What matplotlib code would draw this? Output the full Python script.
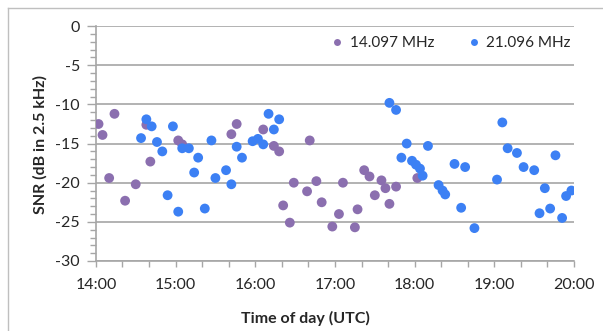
import matplotlib
matplotlib.use("Agg")
import matplotlib.pyplot as plt
from matplotlib.ticker import MultipleLocator, FuncFormatter
from matplotlib.lines import Line2D

plt.rcParams['font.family'] = ['Lato', 'DejaVu Sans']

# ---- data ----
series_labels = ["14.097 MHz", "21.096 MHz"]

times_14 = ["14:02", "14:05", "14:10", "14:14", "14:22", "14:30", "14:38", "14:41",
            "15:02", "15:05", "15:42", "15:46", "16:06", "16:14", "16:18", "16:21",
            "16:26", "16:29", "16:39", "16:41", "16:46", "16:50", "16:58", "17:03",
            "17:06", "17:15", "17:17", "17:22", "17:26", "17:30", "17:35", "17:38",
            "17:41", "17:46", "18:02"]
snr_14 = [-12.5, -13.9, -19.4, -11.2, -22.3, -20.2, -12.6, -17.3,
          -14.6, -15.1, -13.8, -12.5, -13.2, -15.3, -16.0, -22.9,
          -25.1, -20.0, -21.1, -14.6, -19.8, -22.5, -25.6, -24.0,
          -20.0, -25.7, -23.4, -18.4, -19.2, -21.6, -19.7, -20.7,
          -22.7, -20.5, -19.4]

times_21 = ["14:34", "14:38", "14:42", "14:46", "14:50", "14:54", "14:58", "15:02",
            "15:05", "15:10", "15:14", "15:17", "15:22", "15:27", "15:30", "15:38",
            "15:42", "15:46", "15:50", "15:58", "16:02", "16:06", "16:10", "16:14",
            "16:18", "17:41", "17:46", "17:50", "17:54", "17:58", "18:01", "18:04",
            "18:06", "18:10", "18:18", "18:21", "18:23", "18:30", "18:35", "18:38",
            "18:45", "19:02", "19:06", "19:10", "19:17", "19:22", "19:30", "19:34",
            "19:38", "19:42", "19:46", "19:51", "19:54", "19:58"]
snr_21 = [-14.3, -11.9, -12.8, -14.8, -16.0, -21.6, -12.8, -23.7,
          -15.6, -15.6, -18.7, -16.8, -23.3, -14.6, -19.4, -18.4,
          -20.2, -15.4, -16.8, -14.7, -14.4, -15.1, -11.2, -13.2,
          -11.9, -9.8, -10.7, -16.8, -15.0, -17.2, -17.7, -18.2,
          -19.1, -15.3, -20.3, -21.0, -21.5, -17.6, -23.2, -18.0,
          -25.8, -19.6, -12.3, -15.6, -16.2, -18.0, -18.4, -23.9,
          -20.7, -23.3, -16.5, -24.5, -21.7, -21.0]

colors = ["#8B6FAF", "#3C80F4"]


def to_hours(t):
    h, m = t.split(":")
    return int(h) + int(m) / 60.0


fig = plt.figure(figsize=(6.03, 3.31), dpi=100)
ax = fig.add_axes([0.159, 0.2115, 0.793, 0.7095])

for times, vals, c, lab in [(times_14, snr_14, colors[0], series_labels[0]),
                            (times_21, snr_21, colors[1], series_labels[1])]:
    ax.scatter([to_hours(t) for t in times], vals, s=50, color=c,
               edgecolors='none', zorder=3, label=lab)

ax.set_xlim(14, 20)
ax.set_ylim(-30, 0)
ax.xaxis.set_major_locator(MultipleLocator(1))
ax.xaxis.set_minor_locator(MultipleLocator(1 / 3))
ax.yaxis.set_major_locator(MultipleLocator(5))
ax.yaxis.set_minor_locator(MultipleLocator(1))
ax.xaxis.set_major_formatter(FuncFormatter(lambda v, p: "%d:00" % round(v)))
ax.yaxis.set_major_formatter(FuncFormatter(lambda v, p: "%d" % round(v)))

gc = "#A6A6A6"
tc = "#262626"
ax.grid(axis='y', which='major', color=gc, linewidth=1.2, zorder=0)
ax.set_axisbelow(True)
for s in ['top', 'right']:
    ax.spines[s].set_visible(False)
for s in ['left', 'bottom']:
    ax.spines[s].set_color(gc)
    ax.spines[s].set_linewidth(1.2)

ax.tick_params(axis='both', which='both', direction='out', color=gc, width=1.0)
ax.tick_params(axis='x', which='major', length=4, pad=8, labelsize=11.5, labelcolor=tc)
ax.tick_params(axis='x', which='minor', length=4)
ax.tick_params(axis='y', which='major', length=6.5, pad=5, labelsize=11.5, labelcolor=tc)
ax.tick_params(axis='y', which='minor', length=4.5)

fig.text(305 / 603, 1 - 318 / 331, "Time of day (UTC)", fontsize=11.5, fontweight='bold',
         color=tc, ha='center', va='center')
fig.text(40 / 603, 1 - 145 / 331, "SNR (dB in 2.5 kHz)", fontsize=11.5, fontweight='bold',
         color=tc, ha='center', va='center', rotation=90)

handles = [Line2D([], [], marker='o', linestyle='none', color=c, markersize=5,
                  markeredgewidth=0) for c in colors]
ax.legend(handles, series_labels, loc='upper right', ncol=2, frameon=False,
          fontsize=11, handletextpad=0.2, columnspacing=2.0, handlelength=1.2,
          bbox_to_anchor=(1.012, 0.995), borderaxespad=0.2, labelcolor=tc)

# chart area border (left and top visible)
fig.add_artist(Line2D([8 / 603, 8 / 603], [0, 1 - 8 / 331], color="#BFBFBF", linewidth=1.0))
fig.add_artist(Line2D([8 / 603, 1], [1 - 8 / 331, 1 - 8 / 331], color="#BFBFBF", linewidth=1.0))

fig.savefig("out.png", dpi=100)
